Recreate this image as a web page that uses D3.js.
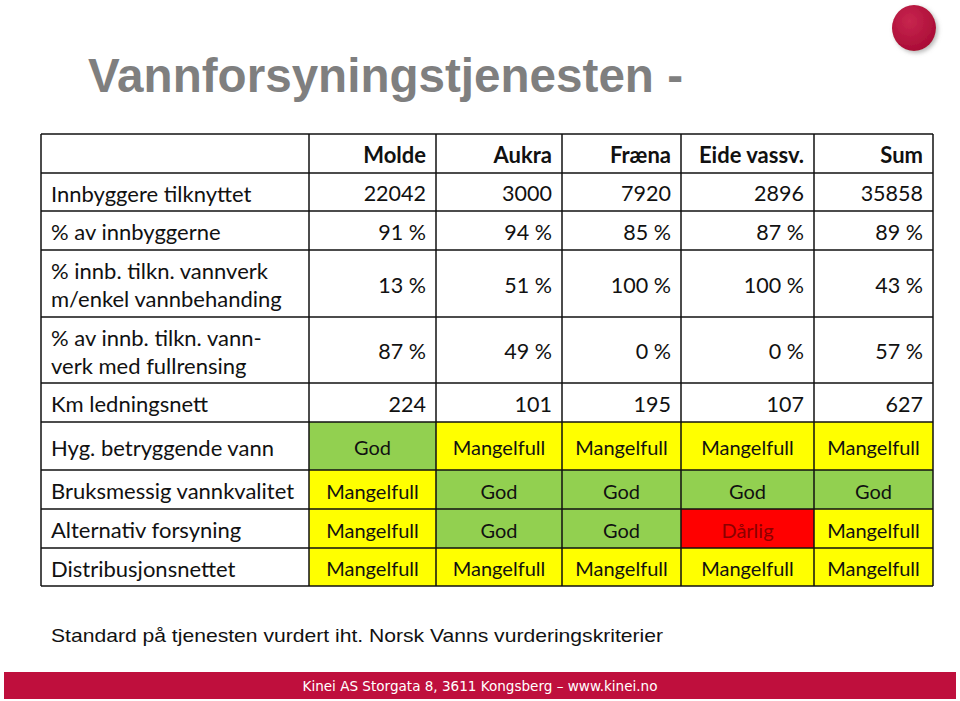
<!DOCTYPE html>
<html><head><meta charset="utf-8">
<script src="https://cdn.jsdelivr.net/npm/d3@7"></script>
<style>body{margin:0;background:#fff}svg{display:block}</style>
</head><body>
<script>
const columns = ["Molde","Aukra","Fræna","Eide vassv.","Sum"];
const numericRows = [
  {label:["Innbyggere tilknyttet"], values:["22042","3000","7920","2896","35858"]},
  {label:["% av innbyggerne"], values:["91 %","94 %","85 %","87 %","89 %"]},
  {label:["% innb. tilkn. vannverk","m/enkel vannbehanding"], values:["13 %","51 %","100 %","100 %","43 %"]},
  {label:["% av innb. tilkn. vann-","verk med fullrensing"], values:["87 %","49 %","0 %","0 %","57 %"]},
  {label:["Km ledningsnett"], values:["224","101","195","107","627"]}
];
const statusRows = [
  {label:"Hyg. betryggende vann", values:["God","Mangelfull","Mangelfull","Mangelfull","Mangelfull"]},
  {label:"Bruksmessig vannkvalitet", values:["Mangelfull","God","God","God","God"]},
  {label:"Alternativ forsyning", values:["Mangelfull","God","God","Dårlig","Mangelfull"]},
  {label:"Distribusjonsnettet", values:["Mangelfull","Mangelfull","Mangelfull","Mangelfull","Mangelfull"]}
];
const statusColors = {"God":"#92d050","Mangelfull":"#ffff00","Dårlig":"#ff0000"};
const statusText = {"God":"#111","Mangelfull":"#111","Dårlig":"#8b0000"};

const W=960,H=701;
const svg=d3.select("body").append("svg").attr("width",W).attr("height",H);

// title
svg.append("text").attr("x",88).attr("y",92).text("Vannforsyningstjenesten -")
  .attr("font-family","Liberation Sans, Arial").attr("font-weight","bold").attr("font-size",48)
  .attr("fill","#7f7f7f").attr("textLength",595).attr("lengthAdjust","spacingAndGlyphs");

// logo dot
const defs=svg.append("defs");
const f=defs.append("filter").attr("id","sh").attr("x","-50%").attr("y","-50%").attr("width","200%").attr("height","200%");
f.append("feDropShadow").attr("dx",2).attr("dy",2).attr("stdDeviation",2).attr("flood-color","#888").attr("flood-opacity",0.6);
const rg=defs.append("radialGradient").attr("id","rg").attr("cx","40%").attr("cy","35%").attr("r","70%");
rg.append("stop").attr("offset","0%").attr("stop-color","#c8264f");
rg.append("stop").attr("offset","100%").attr("stop-color","#a80b35");
svg.append("ellipse").attr("cx",914).attr("cy",28).attr("rx",22).attr("ry",23).attr("fill","url(#rg)").attr("filter","url(#sh)");

// layout
const colEdges=[41,309,436,562,681,814,933];
const rowEdges=[134,173,211,250,317,383,422,470,509,548,586];
const x=d3.scaleOrdinal().domain(["label",...columns]).range(colEdges.slice(0,6));
const xr=d3.scaleOrdinal().domain(["label",...columns]).range(colEdges.slice(1));
const font="Lato, Open Sans, sans-serif";
const g=svg.append("g");

// status fills
statusRows.forEach((r,ri)=>{
  const y0=rowEdges[6+ri], y1=rowEdges[7+ri];
  r.values.forEach((v,ci)=>{
    const c=columns[ci];
    g.append("rect").attr("x",x(c)).attr("y",y0).attr("width",xr(c)-x(c)).attr("height",y1-y0).attr("fill",statusColors[v]);
    g.append("text").attr("x",(x(c)+xr(c))/2).attr("y",(y0+y1)/2+1).attr("text-anchor","middle")
      .attr("dominant-baseline","central").attr("font-family",font).attr("font-size",20)
      .attr("fill",statusText[v]).text(v);
  });
  g.append("text").attr("x",51).attr("y",(y0+y1)/2+1).attr("dominant-baseline","central")
    .attr("font-family",font).attr("font-size",22).attr("fill","#111").text(r.label);
});

// header
columns.forEach(c=>{
  g.append("text").attr("x",xr(c)-10).attr("y",(rowEdges[0]+rowEdges[1])/2+1).attr("text-anchor","end")
    .attr("dominant-baseline","central").attr("font-family",font).attr("font-weight","bold").attr("font-size",22)
    .attr("fill","#111").text(c);
});

// numeric rows
numericRows.forEach((r,ri)=>{
  const y0=rowEdges[1+ri], y1=rowEdges[2+ri], yc=(y0+y1)/2+1;
  const n=r.label.length;
  r.label.forEach((l,li)=>{
    g.append("text").attr("x",51).attr("y",yc+(li-(n-1)/2)*28).attr("dominant-baseline","central")
      .attr("font-family",font).attr("font-size",22).attr("fill","#111").text(l);
  });
  r.values.forEach((v,ci)=>{
    const c=columns[ci];
    g.append("text").attr("x",xr(c)-10).attr("y",yc).attr("text-anchor","end").attr("dominant-baseline","central")
      .attr("font-family",font).attr("font-size",21.5).attr("fill","#111").text(v);
  });
});

// grid lines
rowEdges.forEach(y=>g.append("line").attr("x1",colEdges[0]).attr("x2",colEdges[6]).attr("y1",y).attr("y2",y).attr("stroke","#111").attr("stroke-width",1.5));
colEdges.forEach((cx,i)=>g.append("line").attr("x1",cx).attr("x2",cx).attr("y1",rowEdges[0]).attr("y2",rowEdges[10]).attr("stroke","#111").attr("stroke-width",1.5));

// note
svg.append("text").attr("x",51).attr("y",642).text("Standard på tjenesten vurdert iht. Norsk Vanns vurderingskriterier")
  .attr("font-family","Liberation Sans, Arial").attr("font-size",19).attr("fill","#111")
  .attr("textLength",612).attr("lengthAdjust","spacingAndGlyphs");

// footer
svg.append("rect").attr("x",4).attr("y",672).attr("width",952).attr("height",27).attr("fill","#bf0f3d");
svg.append("text").attr("x",480).attr("y",686).attr("text-anchor","middle").attr("dominant-baseline","central")
  .attr("font-family","DejaVu Sans Condensed, DejaVu Sans").attr("font-size",14).attr("fill","#fff")
  .attr("textLength",355).attr("lengthAdjust","spacingAndGlyphs")
  .text("Kinei AS Storgata 8, 3611 Kongsberg – www.kinei.no");
</script>
</body></html>
